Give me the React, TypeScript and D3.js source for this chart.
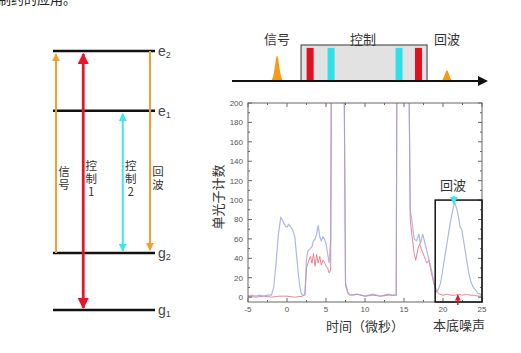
import React from 'react';
import * as d3 from 'd3';

// energy levels (left diagram)
const levelNames = ['g1', 'g2', 'e1', 'e2'];
const levelEnergy = [0, 1, 3.5, 4.55];

// transitions: from level, to level, column slot, colour, label, two-headed?
const transLabels = ['信号', '控制1', '控制2', '回波'];
const transFrom = ['g2', 'g1', 'g2', 'e2'];
const transTo = ['e2', 'e2', 'e1', 'g2'];
const transSlot = [0, 1, 2.45, 3.45];
const transColor = ['#f0a030', '#e3162a', '#3ee6ee', '#f0a030'];
const transBoth = [false, true, true, false];

// pulse sequence (top right)
const seqLabels = ['信号', '控制', '回波'];
const seqLabelPos = [17.9, 52, 85.3];
const barTimes = [31, 39.3, 66.3, 74];
const barColors = ['#e01020', '#30e0e8', '#30e0e8', '#e01020'];
const pulseTimes = [17.9, 85.3];
const pulseHeights = [0.78, 0.33];
const pulseProfile = [0, 0.06, 0.25, 0.7, 1, 0.7, 0.25, 0.06, 0];
const controlStart = 27.4;
const controlEnd = 77.4;

// photon counts (bottom right)
const blueT = [-5, -4.5, -4, -3.5, -3, -2.5, -2, -1.7, -1.4, -1.1, -0.8, -0.6, -0.4, -0.2, 0, 0.2, 0.4, 0.7, 1, 1.2, 1.5, 1.8, 2, 2.3, 2.5, 2.7, 3, 3.2, 3.4, 3.6, 3.8, 4, 4.2, 4.4, 4.6, 4.8, 5, 5.2, 5.4, 5.6, 5.7, 7.3, 7.5, 7.8, 8, 8.5, 9, 9.5, 10, 10.5, 11, 11.5, 12, 12.5, 13, 13.5, 14, 14.1, 15.6, 15.8, 16, 16.3, 16.6, 16.9, 17.1, 17.4, 17.7, 18, 18.3, 18.6, 18.9, 19.1, 19.4, 19.7, 20, 20.3, 20.6, 20.9, 21.2, 21.5, 21.8, 22, 22.2, 22.4, 22.7, 23, 23.3, 23.6, 23.9, 24.2, 24.5, 24.8, 25];
const blueC = [1, 2, 1, 2, 1, 2, 2, 10, 35, 65, 82, 80, 76, 73, 72, 75, 73, 70, 62, 45, 20, 4, 2, 2, 40, 48, 50, 52, 58, 60, 65, 74, 62, 58, 62, 60, 55, 45, 35, 60, 260, 260, 15, 5, 3, 2, 3, 2, 1, 2, 3, 2, 1, 2, 3, 2, 2, 260, 260, 90, 80, 60, 58, 65, 55, 65, 55, 45, 35, 25, 12, 5, 8, 15, 30, 45, 60, 75, 88, 98, 90, 82, 72, 70, 55, 40, 25, 15, 10, 7, 4, 3, 2];
const redT = [-5, -4, -3, -2, -1, 0, 1, 2, 2.3, 2.5, 2.8, 3, 3.2, 3.4, 3.6, 3.8, 4, 4.2, 4.4, 4.6, 4.8, 5, 5.2, 5.4, 5.6, 5.7, 7.3, 7.5, 7.8, 8, 9, 10, 11, 12, 13, 14, 14.1, 15.6, 15.8, 16, 16.3, 16.5, 16.8, 17, 17.3, 17.6, 17.9, 18.2, 18.5, 18.8, 19, 19.3, 19.6, 20, 20.5, 21, 21.5, 22, 22.5, 23, 23.5, 24, 24.5, 25];
const redC = [1, 0, 1, 0, 1, 1, 0, 1, 3, 30, 38, 42, 35, 45, 32, 44, 35, 42, 33, 38, 36, 32, 30, 25, 28, 260, 260, 12, 4, 2, 3, 1, 2, 1, 2, 2, 260, 260, 80, 65, 45, 38, 50, 55, 48, 42, 35, 38, 25, 15, 10, 5, 3, 2, 3, 2, 2, 3, 2, 3, 2, 2, 1, 1];
const xTicks = [-5, 0, 5, 10, 15, 20, 25];
const yTicks = [0, 20, 40, 60, 80, 100, 120, 140, 160, 180, 200];
const echoBox = [19, 25, -5, 100];
const echoPeakT = 21.4;
const noiseT = 21.9;

const font = '"Noto Sans CJK SC", "Noto Sans", sans-serif';

const App: React.FC = () => {
  // left diagram scales
  const ly = d3.scaleLinear().domain([0, 4.55]).range([310, 51]);
  const lx = d3.scaleLinear().domain([0, 3.45]).range([56, 150]);
  const levelY = (n: string) => ly(levelEnergy[levelNames.indexOf(n)]);

  // top sequence scales
  const sx = d3.scaleLinear().domain([0, 100]).range([232, 484]);
  const sy = d3.scaleLinear().domain([0, 1]).range([81, 45]);

  // counts chart scales
  const x = d3.scaleLinear().domain([-5, 25]).range([248, 482]);
  const y = d3.scaleLinear().domain([-5, 200]).range([302, 103]);
  const line = d3.line<[number, number]>().x((d) => x(d[0])).y((d) => y(d[1]));
  const blue = blueT.map((t, i) => [t, blueC[i]] as [number, number]);
  const red = redT.map((t, i) => [t, redC[i]] as [number, number]);
  const minorX = d3.range(-5, 25.01, 2.5);
  const minorY = d3.range(0, 200.01, 10);

  return (
    <svg width={521} height={353} style={{ position: 'absolute', left: 0, top: 0, background: '#fff', fontFamily: font }}>
      <defs>
        {transColor.map((c, i) => (
          <marker key={i} id={`ah${i}`} viewBox="0 0 10 10" refX={9} refY={5} markerWidth={4} markerHeight={4} orient="auto-start-reverse">
            <path d="M0,0 L10,5 L0,10 z" fill={c} />
          </marker>
        ))}
        <marker id="axArrow" viewBox="0 0 10 10" refX={8} refY={5} markerWidth={5} markerHeight={5} orient="auto">
          <path d="M0,0 L10,5 L0,10 z" fill="#111" />
        </marker>
        <clipPath id="plotClip">
          <rect x={x(-5)} y={y(200)} width={x(25) - x(-5)} height={y(-5) - y(200)} />
        </clipPath>
      </defs>

      {/* cut-off line of text at the top */}
      <text x={-2} y={4} fontSize={13} fill="#222">制约的应用。</text>

      {/* energy levels */}
      {levelNames.map((n) => (
        <g key={n}>
          <line x1={53} x2={155} y1={levelY(n)} y2={levelY(n)} stroke="#111" strokeWidth={2.5} />
          <text x={158} y={levelY(n) + 5} fontSize={14} fill="#444" fontFamily="Arial, sans-serif">
            {n[0]}<tspan fontSize={9} dy={2}>{n[1]}</tspan>
          </text>
        </g>
      ))}
      {transFrom.map((f, i) => {
        const xp = lx(transSlot[i]);
        const y1 = levelY(f);
        const y2 = levelY(transTo[i]);
        const dir = y2 < y1 ? 1 : -1;
        return (
          <g key={i}>
            <line x1={xp} x2={xp} y1={y1 - (transBoth[i] ? 2 * dir : 0)} y2={y2 + 3 * dir}
              stroke={transColor[i]} strokeWidth={i === 1 ? 2.8 : 2}
              markerEnd={`url(#ah${i})`} markerStart={transBoth[i] ? `url(#ah${i})` : undefined} />
            <text x={xp + 8} y={179 - transLabels[i].length * 6.5} fontSize={11.5} fill="#333"
              style={{ writingMode: 'vertical-rl', textOrientation: 'upright', letterSpacing: '1.5px' }}>
              {transLabels[i]}
            </text>
          </g>
        );
      })}

      {/* pulse sequence */}
      <rect x={sx(controlStart)} y={sy(1)} width={sx(controlEnd) - sx(controlStart)} height={sy(0) - sy(1)} fill="#e2e2e2" stroke="#555" strokeWidth={1.2} />
      {barTimes.map((t, i) => (
        <rect key={i} x={sx(t) - 3.5} y={sy(0.92)} width={7} height={sy(0) - sy(0.92)} fill={barColors[i]} />
      ))}
      {pulseTimes.map((t, i) => (
        <path key={i} transform={`translate(${sx(t)},0)`} fill="#f29a1a"
          d={d3.area<number>().x((_, k) => (k - 4) * 1.6).y0(sy(0)).y1((d) => sy(d * pulseHeights[i])).curve(d3.curveBasis)(pulseProfile) || ''} />
      ))}
      <line x1={sx(0)} x2={sx(100) + 2} y1={sy(0)} y2={sy(0)} stroke="#111" strokeWidth={2} markerEnd="url(#axArrow)" />
      {seqLabels.map((s, i) => (
        <text key={s} x={sx(seqLabelPos[i])} y={44} fontSize={13} fill="#333" textAnchor="middle">{s}</text>
      ))}

      {/* counts chart */}
      <g clipPath="url(#plotClip)">
        <path d={line(red) || ''} fill="none" stroke="#e8707e" strokeWidth={1} opacity={0.85} />
        <path d={line(blue) || ''} fill="none" stroke="#9aa6dc" strokeWidth={1.2} opacity={0.8} />
      </g>
      <rect x={x(-5)} y={y(200)} width={x(25) - x(-5)} height={y(-5) - y(200)} fill="none" stroke="#666" strokeWidth={1} />
      {minorX.map((t) => (
        <g key={`x${t}`}>
          <line x1={x(t)} x2={x(t)} y1={y(-5)} y2={y(-5) - (t % 5 === 0 ? 4 : 2)} stroke="#666" />
          <line x1={x(t)} x2={x(t)} y1={y(200)} y2={y(200) + (t % 5 === 0 ? 4 : 2)} stroke="#666" />
        </g>
      ))}
      {minorY.map((v) => (
        <g key={`y${v}`}>
          <line x1={x(-5)} x2={x(-5) + (v % 20 === 0 ? 4 : 2)} y1={y(v)} y2={y(v)} stroke="#666" />
          <line x1={x(25)} x2={x(25) - (v % 20 === 0 ? 4 : 2)} y1={y(v)} y2={y(v)} stroke="#666" />
        </g>
      ))}
      {xTicks.map((t) => (
        <text key={t} x={x(t)} y={312} fontSize={8} fill="#555" textAnchor="middle" fontFamily="Arial, sans-serif">{t}</text>
      ))}
      {yTicks.map((v) => (
        <text key={v} x={243} y={y(v) + 3} fontSize={8} fill="#555" textAnchor="end" fontFamily="Arial, sans-serif">{v}</text>
      ))}
      <text transform={`translate(223,${y(100) - 3}) rotate(-90)`} fontSize={13} fill="#333" textAnchor="middle">单光子计数</text>
      <text x={x(10)} y={331} fontSize={13} fill="#333" textAnchor="middle">时间（微秒）</text>

      {/* echo box and annotations */}
      <rect x={x(echoBox[0])} y={y(echoBox[3])} width={x(echoBox[1]) - x(echoBox[0])} height={y(echoBox[2]) - y(echoBox[3])} fill="none" stroke="#111" strokeWidth={1.5} />
      <text x={x(echoPeakT) - 1} y={190} fontSize={13} fill="#333" textAnchor="middle">回波</text>
      <line x1={x(echoPeakT)} x2={x(echoPeakT)} y1={y(104)} y2={y(96)} stroke="#5bc8e8" strokeWidth={2} markerEnd="url(#ah2)" />
      <line x1={x(noiseT)} x2={x(noiseT)} y1={y(-8)} y2={y(2)} stroke="#e3162a" strokeWidth={1.5} markerEnd="url(#ah1)" />
      <text x={459} y={330} fontSize={13} fill="#333" textAnchor="middle">本底噪声</text>
    </svg>
  );
};

export default App;
